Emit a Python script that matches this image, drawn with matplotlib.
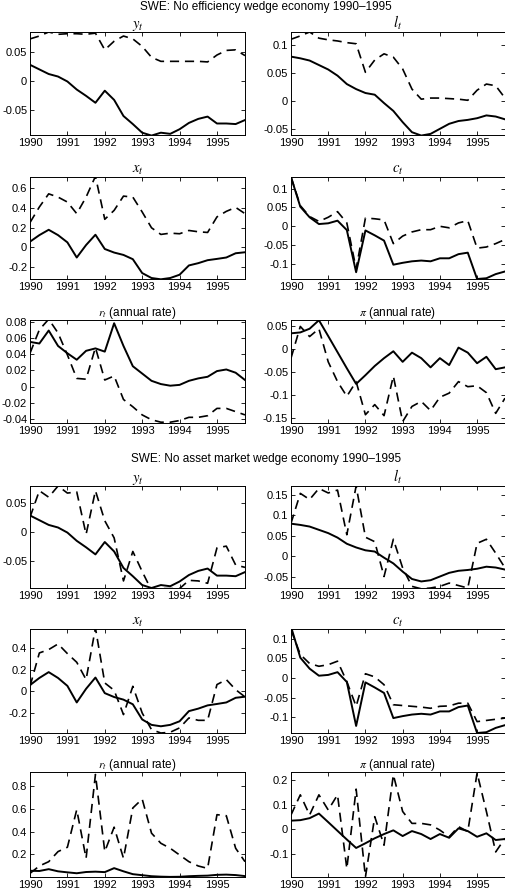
import numpy as np
import matplotlib
matplotlib.use("Agg")
import matplotlib.pyplot as plt
from matplotlib.ticker import FuncFormatter

plt.rcParams['font.family'] = ['Liberation Sans', 'DejaVu Sans']
plt.rcParams['mathtext.fontset'] = 'stix'
plt.rcParams['axes.unicode_minus'] = False

# quarterly dates 1990Q1 .. 1995Q4
quarters = [1990.0, 1990.25, 1990.5, 1990.75, 1991.0, 1991.25, 1991.5, 1991.75,
            1992.0, 1992.25, 1992.5, 1992.75, 1993.0, 1993.25, 1993.5, 1993.75,
            1994.0, 1994.25, 1994.5, 1994.75, 1995.0, 1995.25, 1995.5, 1995.75]

# data (solid lines)
y_data = [0.028, 0.020, 0.012, 0.0076, -0.001, -0.015, -0.026, -0.038, -0.017, -0.033, -0.061, -0.075,
          -0.090, -0.095, -0.090, -0.092, -0.084, -0.073, -0.066, -0.062, -0.074, -0.074, -0.075, -0.068]
l_data = [0.080, 0.077, 0.073, 0.065, 0.057, 0.046, 0.031, 0.022, 0.015, 0.012, -0.003, -0.017,
          -0.037, -0.055, -0.061, -0.058, -0.049, -0.040, -0.035, -0.033, -0.030, -0.025, -0.027, -0.032]
x_data = [0.057, 0.123, 0.177, 0.123, 0.05, -0.103, 0.023, 0.127, -0.017, -0.053, -0.077, -0.12,
          -0.26, -0.31, -0.323, -0.31, -0.277, -0.183, -0.16, -0.13, -0.117, -0.103, -0.06, -0.05]
c_data = [0.131, 0.052, 0.024, 0.006, 0.008, 0.015, -0.010, -0.122, -0.011, -0.024, -0.038, -0.102,
          -0.097, -0.093, -0.091, -0.093, -0.085, -0.085, -0.074, -0.070, -0.140, -0.138, -0.127, -0.120]
r_data = [0.055, 0.053, 0.069, 0.050, 0.041, 0.033, 0.044, 0.047, 0.043, 0.078, 0.050, 0.025,
          0.016, 0.007, 0.003, 0.001, 0.002, 0.007, 0.010, 0.012, 0.019, 0.021, 0.017, 0.008]
pi_data = [0.035, 0.037, 0.045, 0.0635, 0.029, -0.006, -0.041, -0.075, -0.056, -0.036, -0.019, -0.004,
           -0.027, -0.007, -0.019, -0.039, -0.019, -0.034, 0.004, -0.007, -0.030, -0.016, -0.043, -0.039]

# model: no efficiency wedge (dashed, top block)
y_noeff = [0.073, 0.078, 0.085, 0.081, 0.082, 0.082, 0.081, 0.083, 0.054, 0.069, 0.078, 0.073,
           0.060, 0.041, 0.034, 0.034, 0.034, 0.034, 0.034, 0.033, 0.045, 0.053, 0.054, 0.044]
l_noeff = [0.111, 0.117, 0.124, 0.113, 0.110, 0.108, 0.105, 0.103, 0.052, 0.074, 0.085, 0.079,
           0.058, 0.022, 0.004, 0.006, 0.006, 0.005, 0.004, 0.002, 0.020, 0.031, 0.028, 0.006]
x_noeff = [0.25, 0.407, 0.54, 0.507, 0.457, 0.34, 0.507, 0.717, 0.283, 0.373, 0.517, 0.507,
           0.357, 0.197, 0.13, 0.143, 0.137, 0.17, 0.157, 0.15, 0.307, 0.363, 0.403, 0.34]
c_noeff = [0.131, 0.055, 0.026, 0.013, 0.024, 0.039, 0.009, -0.113, 0.022, 0.020, 0.017, -0.046,
           -0.026, -0.015, -0.009, -0.009, 0.0, -0.004, 0.009, 0.015, -0.058, -0.055, -0.046, -0.035]
r_noeff = [0.041, 0.070, 0.083, 0.066, 0.039, 0.010, 0.009, 0.048, 0.008, 0.013, -0.016, -0.025,
           -0.035, -0.041, -0.044, -0.044, -0.042, -0.038, -0.038, -0.036, -0.027, -0.027, -0.031, -0.035]
pi_noeff = [-0.019, 0.050, 0.028, 0.045, -0.027, -0.070, -0.102, -0.070, -0.142, -0.120, -0.144, -0.058,
            -0.157, -0.124, -0.113, -0.133, -0.104, -0.095, -0.070, -0.081, -0.079, -0.094, -0.139, -0.106]

# model: no asset market wedge (dashed, bottom block)
y_noasset = [0.025, 0.070, 0.059, 0.078, 0.066, 0.068, -0.004, 0.070, 0.019, -0.010, -0.083, -0.033,
             -0.067, -0.099, -0.096, -0.096, -0.096, -0.082, -0.083, -0.087, -0.027, -0.024, -0.056, -0.060]
l_noasset = [0.081, 0.154, 0.139, 0.166, 0.155, 0.162, 0.053, 0.172, 0.047, 0.036, -0.049, 0.042,
             -0.028, -0.073, -0.079, -0.077, -0.073, -0.065, -0.071, -0.077, 0.032, 0.042, 0.008, -0.028]
x_noasset = [0.046, 0.354, 0.385, 0.437, 0.348, 0.268, 0.108, 0.585, 0.077, 0.009, -0.215, 0.046,
             -0.20, -0.354, -0.385, -0.378, -0.338, -0.246, -0.268, -0.268, 0.062, 0.108, 0.015, -0.052]
c_noasset = [0.123, 0.060, 0.037, 0.030, 0.034, 0.043, -0.009, -0.072, 0.011, 0.003, -0.017, -0.068,
             -0.070, -0.072, -0.074, -0.077, -0.072, -0.071, -0.064, -0.064, -0.111, -0.108, -0.105, -0.102]
r_noasset = [0.032, 0.097, 0.135, 0.224, 0.262, 0.593, 0.165, 0.903, 0.224, 0.439, 0.165, 0.608,
             0.687, 0.386, 0.297, 0.253, 0.194, 0.135, 0.097, 0.076, 0.549, 0.540, 0.253, 0.135]
pi_noasset = [0.058, 0.139, 0.058, 0.139, 0.078, 0.139, -0.158, 0.162, -0.192, 0.051, -0.064, 0.220,
              0.072, 0.024, 0.024, 0.018, -0.003, -0.030, 0.011, -0.009, 0.227, 0.072, -0.091, -0.036]

titles = ['$y_t$', '$l_t$', '$x_t$', '$c_t$', '$r_t$ (annual rate)', '$\\pi$ (annual rate)']
title_sizes = [10.5, 10.5, 10.5, 10.5, 8.5, 8.5]
block_titles = ['SWE: No efficiency wedge economy 1990\u20131995',
                'SWE: No asset market wedge economy 1990\u20131995']

data_series = [y_data, l_data, x_data, c_data, r_data, pi_data]
model_series = [[y_noeff, l_noeff, x_noeff, c_noeff, r_noeff, pi_noeff],
                [y_noasset, l_noasset, x_noasset, c_noasset, r_noasset, pi_noasset]]

ylims = [[(-0.094, 0.085), (-0.06, 0.124), (-0.32, 0.71), (-0.14, 0.131), (-0.045, 0.082), (-0.16, 0.064)],
         [(-0.095, 0.078), (-0.077, 0.172), (-0.385, 0.575), (-0.14, 0.125), (0.0, 0.925), (-0.192, 0.231)]]
yticks = [[[-0.05, 0, 0.05], [-0.05, 0, 0.05, 0.1], [-0.2, 0, 0.2, 0.4, 0.6],
           [-0.1, -0.05, 0, 0.05, 0.1], [-0.04, -0.02, 0, 0.02, 0.04, 0.06, 0.08],
           [-0.15, -0.1, -0.05, 0, 0.05]],
          [[-0.05, 0, 0.05], [-0.05, 0, 0.05, 0.1, 0.15], [-0.2, 0, 0.2, 0.4],
           [-0.1, -0.05, 0, 0.05, 0.1], [0.2, 0.4, 0.6, 0.8], [-0.1, 0, 0.1, 0.2]]]

W, H = 506, 893
fig = plt.figure(figsize=(W / 100, H / 100), dpi=100)

col_x = [(30, 215), (291, 214)]
row_y = [[(32, 135), (177, 279), (320, 423)],
         [(486, 588), (629, 733), (772, 877)]]
title_y = [7, 459]

fmt = FuncFormatter(lambda v, p: '%g' % round(v, 4))

for b in range(2):
    fig.text(266 / W, 1 - title_y[b] / H, block_titles[b], ha='center', va='center', fontsize=8.5)
    for k in range(6):
        row, col = divmod(k, 2)
        x0, w = col_x[col]
        top, bot = row_y[b][row]
        ax = fig.add_axes([x0 / W, 1 - bot / H, w / W, (bot - top) / H])
        ax.plot(quarters, data_series[k], color='black', lw=1.4)
        ax.plot(quarters, model_series[b][k], color='black', lw=1.2, linestyle=(0, (5.5, 3.5)))
        ax.set_xlim(1990, 1995.75)
        ax.set_ylim(*ylims[b][k])
        ax.set_xticks([1990, 1991, 1992, 1993, 1994, 1995])
        ax.set_yticks(yticks[b][k])
        ax.yaxis.set_major_formatter(fmt)
        ax.tick_params(direction='in', top=True, right=True, length=3, width=0.6,
                       labelsize=8, pad=2)
        for s in ax.spines.values():
            s.set_linewidth(0.7)
        ax.set_title(titles[k], fontsize=title_sizes[k], pad=3)

fig.savefig('out.png', dpi=100)
